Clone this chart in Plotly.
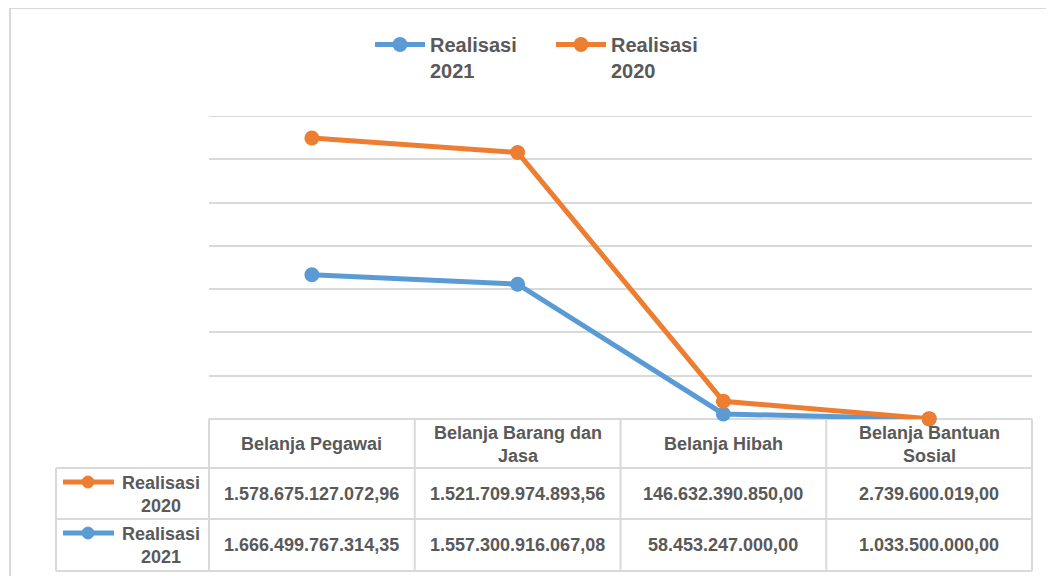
import plotly.graph_objects as go

# Data
kategori = ["Belanja Pegawai", "Belanja Barang dan Jasa", "Belanja Hibah", "Belanja Bantuan Sosial"]
header = ["Belanja Pegawai", "Belanja Barang dan<br>Jasa", "Belanja Hibah", "Belanja Bantuan<br>Sosial"]
realisasi_2021 = [1666499767314.35, 1557300916067.08, 58453247000.00, 1033500000.00]
realisasi_2020 = [1578675127072.96, 1521709974893.56, 146632390850.00, 2739600019.00]
y_maks = 3.5e12

BIRU = "#5B9BD5"
ORANYE = "#ED7D31"
TEKS = "#595959"
GRID = "#D9D9D9"
FONT = "Liberation Sans, Arial, sans-serif"

# halaman html punya margin 8px, jadi ukuran figur dikurangi
OFF = 8
W, H = 1054 - OFF, 576 - OFF
PL, PT, PW, PH = 209, 116, 823, 303   # area plot dalam koordinat layar
L, T = PL - OFF, PT - OFF
R = W - L - PW
B = H - T - PH


def px_x(p):
    return (p - PL) / PW


def px_y(p):
    return (PT + PH - p) / PH


def rupiah(v):
    s = f"{v:,.2f}"
    return s.replace(",", "X").replace(".", ",").replace("X", ".")


def tebal(s):
    return "<br>".join(f"<b>{t}</b>" for t in s.split("<br>"))


fig = go.Figure()
fig.add_trace(go.Scatter(
    x=kategori, y=realisasi_2021, name=tebal("Realisasi<br>2021"),
    mode="lines+markers", stackgroup="one", fill="none",
    line=dict(color=BIRU, width=5), marker=dict(size=15, color=BIRU),
    cliponaxis=False,
))
fig.add_trace(go.Scatter(
    x=kategori, y=realisasi_2020, name=tebal("Realisasi<br>2020"),
    mode="lines+markers", stackgroup="one", fill="none",
    line=dict(color=ORANYE, width=5), marker=dict(size=15, color=ORANYE),
    cliponaxis=False,
))

shapes = []
garis = dict(color=GRID, width=2)

# bingkai luar
shapes.append(dict(type="rect", xref="paper", yref="paper",
                   x0=px_x(10), x1=px_x(1070), y0=px_y(8), y1=px_y(620),
                   line=garis, layer="below"))

# garis grid teratas
shapes.append(dict(type="line", xref="paper", yref="y",
                   x0=0, x1=1, y0=y_maks, y1=y_maks, line=garis, layer="below"))

# tabel data
y_atas, y_r1, y_r2, y_bawah = px_y(419), px_y(468), px_y(519), px_y(571)
x_kiri = px_x(56)
for yy in [y_r1, y_r2, y_bawah]:
    shapes.append(dict(type="line", xref="paper", yref="paper",
                       x0=x_kiri, x1=1, y0=yy, y1=yy, line=garis))
shapes.append(dict(type="line", xref="paper", yref="paper",
                   x0=0, x1=1, y0=y_atas, y1=y_atas, line=garis, layer="below"))
shapes.append(dict(type="line", xref="paper", yref="paper",
                   x0=x_kiri, x1=x_kiri, y0=y_r1, y1=y_bawah, line=garis))
for i in range(len(kategori) + 1):
    shapes.append(dict(type="line", xref="paper", yref="paper",
                       x0=i / len(kategori), x1=i / len(kategori),
                       y0=y_atas, y1=y_bawah, line=garis, layer="below"))

annotations = []
teks_font = dict(family=FONT, size=18, color=TEKS)
for i, h in enumerate(header):
    annotations.append(dict(x=kategori[i], xref="x", y=px_y(444), yref="paper",
                            xanchor="center", yanchor="middle",
                            text=tebal(h), showarrow=False, font=teks_font))

baris = [("Realisasi<br>2020", realisasi_2020, ORANYE, 494),
         ("Realisasi<br>2021", realisasi_2021, BIRU, 545)]
for nama, nilai, warna, yc in baris:
    for i, v in enumerate(nilai):
        annotations.append(dict(x=kategori[i], xref="x", y=px_y(yc), yref="paper",
                                xanchor="center", yanchor="middle",
                                text=tebal(rupiah(v)), showarrow=False, font=teks_font))
    annotations.append(dict(x=px_x(161), xref="paper", y=px_y(yc), yref="paper",
                            xanchor="center", yanchor="middle",
                            text=tebal(nama), showarrow=False, align="center",
                            font=teks_font))
    yk = px_y(yc - 12)
    shapes.append(dict(type="line", xref="paper", yref="paper",
                       x0=px_x(63), x1=px_x(114), y0=yk, y1=yk,
                       line=dict(color=warna, width=5)))
    shapes.append(dict(type="circle", xref="paper", yref="paper",
                       x0=px_x(82), x1=px_x(94), y0=px_y(yc - 18), y1=px_y(yc - 6),
                       fillcolor=warna, line=dict(color=warna, width=1)))

fig.update_layout(
    width=W, height=H,
    margin=dict(l=L, r=R, t=T, b=B),
    paper_bgcolor="white", plot_bgcolor="white",
    showlegend=True,
    legend=dict(orientation="h", x=px_x(370), xanchor="left", y=px_y(25), yanchor="top",
                font=dict(family=FONT, size=20, color=TEKS), valign="top",
                traceorder="normal", itemwidth=50,
                entrywidth=116, entrywidthmode="pixels"),
    xaxis=dict(showticklabels=False, showgrid=False, zeroline=False,
               showline=False, ticks="", range=[-0.5, 3.5]),
    yaxis=dict(range=[0, y_maks], tick0=0, dtick=0.5e12, showticklabels=False,
               showgrid=True, gridcolor=GRID, gridwidth=2, zeroline=False,
               showline=False, ticks=""),
    shapes=shapes,
    annotations=annotations,
    hovermode="x",
)

fig.write_html("out.html")
